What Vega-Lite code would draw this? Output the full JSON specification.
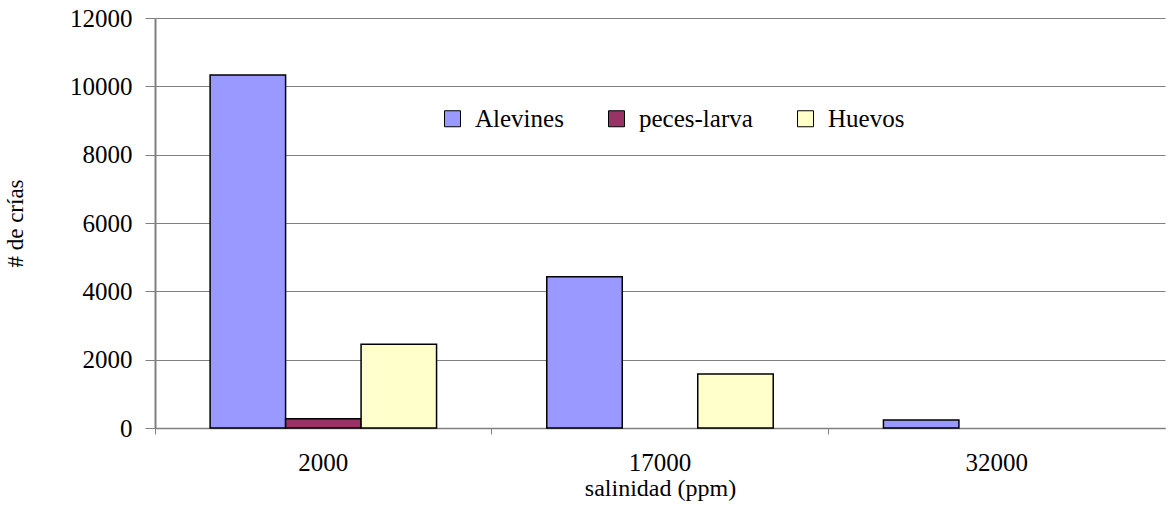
{
  "$schema": "https://vega.github.io/schema/vega-lite/v6.json",
  "width": 1010,
  "height": 410,
  "autosize": "none",
  "padding": {"left": 155, "top": 18, "right": 6, "bottom": 77},
  "background": "white",
  "data": {
    "values": [
      {"salinidad": "2000", "tipo": "Alevines", "crias": 10330},
      {"salinidad": "2000", "tipo": "peces-larva", "crias": 270},
      {"salinidad": "2000", "tipo": "Huevos", "crias": 2450},
      {"salinidad": "17000", "tipo": "Alevines", "crias": 4430},
      {"salinidad": "17000", "tipo": "Huevos", "crias": 1580},
      {"salinidad": "32000", "tipo": "Alevines", "crias": 234}
    ]
  },
  "mark": {"type": "bar", "stroke": "black", "strokeWidth": 1.5},
  "encoding": {
    "x": {
      "field": "salinidad",
      "type": "nominal",
      "sort": ["2000", "17000", "32000"],
      "scale": {"paddingInner": 0, "paddingOuter": 0},
      "axis": {
        "title": "salinidad (ppm)",
        "titleFont": "Liberation Serif",
        "titleFontSize": 24,
        "titleFontWeight": "normal",
        "titleColor": "black",
        "titleY": 48,
        "titleBaseline": "top",
        "labelAngle": 0,
        "labelFont": "Liberation Serif",
        "labelFontSize": 25,
        "labelColor": "black",
        "labelPadding": 16,
        "bandPosition": 0,
        "ticks": true,
        "tickSize": 6,
        "tickColor": "#808080",
        "domainColor": "#808080",
        "domainWidth": 1.5,
        "grid": false
      }
    },
    "xOffset": {
      "field": "tipo",
      "type": "nominal",
      "sort": ["Alevines", "peces-larva", "Huevos"],
      "scale": {"domain": ["Alevines", "peces-larva", "Huevos"], "paddingInner": 0, "paddingOuter": 0.73}
    },
    "y": {
      "field": "crias",
      "type": "quantitative",
      "scale": {"domain": [0, 12000], "nice": false},
      "axis": {
        "title": "# de crías",
        "titleFont": "Liberation Serif",
        "titleFontSize": 23,
        "titleFontWeight": "normal",
        "titleColor": "black",
        "titleX": -140,
        "titleBaseline": "middle",
        "values": [0, 2000, 4000, 6000, 8000, 10000, 12000],
        "format": "d",
        "labelFont": "Liberation Serif",
        "labelFontSize": 25,
        "labelColor": "black",
        "labelPadding": 13,
        "tickSize": 10,
        "tickColor": "#808080",
        "domainColor": "#808080",
        "domainWidth": 2,
        "grid": true,
        "gridColor": "#808080",
        "gridWidth": 1.2
      }
    },
    "color": {
      "field": "tipo",
      "type": "nominal",
      "scale": {
        "domain": ["Alevines", "peces-larva", "Huevos"],
        "range": ["#9999FF", "#993366", "#FFFFCC"]
      },
      "legend": {
        "title": null,
        "orient": "none",
        "direction": "horizontal",
        "legendX": 285,
        "legendY": 88,
        "symbolType": "square",
        "symbolSize": 256,
        "symbolStrokeColor": "black",
        "symbolStrokeWidth": 1,
        "symbolOpacity": 1,
        "labelFont": "Liberation Serif",
        "labelFontSize": 25,
        "labelColor": "black",
        "labelOffset": 10,
        "columnPadding": 40,
        "encode": {
          "labels": {"update": {"font": {"value": "Liberation Serif"}, "fontSize": {"value": 25}}}
        }
      }
    }
  },
  "config": {
    "view": {"stroke": null},
    "font": "Liberation Serif",
    "legend": {"labelFont": "Liberation Serif"}
  }
}
